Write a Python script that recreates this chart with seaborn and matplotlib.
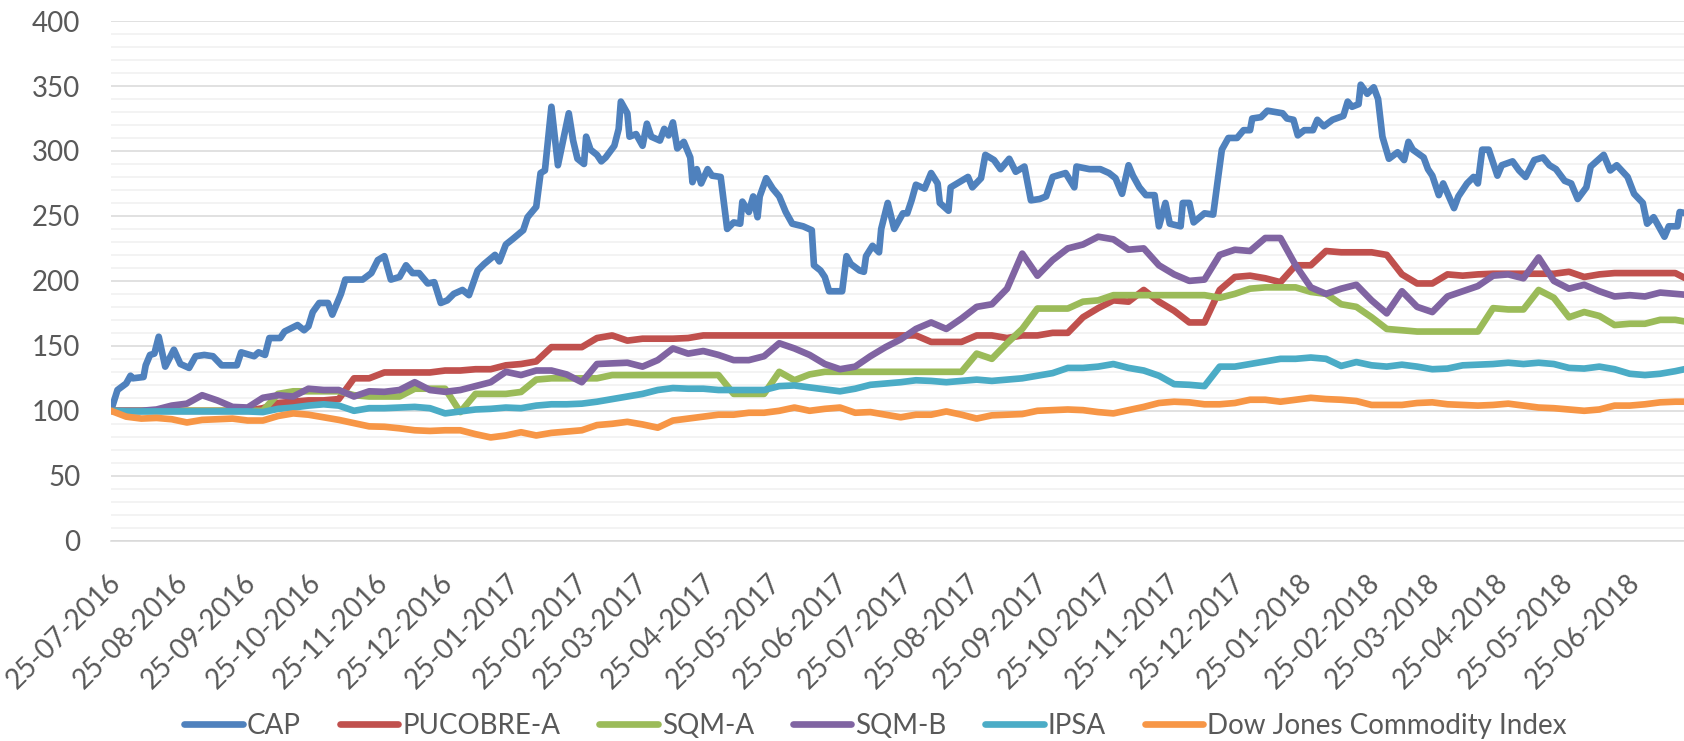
import pandas as pd
import matplotlib.pyplot as plt
import matplotlib.dates as mdates
import matplotlib.transforms as mtransforms
from matplotlib.ticker import MultipleLocator
import seaborn as sns

inicio = pd.Timestamp('2016-07-25')

# CAP: puntos (dias desde el 25-07-2016, valor base 100)
cap_dias = [0, 3, 7, 9, 10, 15, 16, 18, 20, 22, 25, 29, 32, 36, 39, 43, 47, 51, 58, 60,
            66, 68, 71, 73, 78, 80, 86, 89, 91, 93, 96, 100, 102, 106, 108, 116, 120, 123, 126, 129,
            133, 136, 139, 142, 146, 149, 152, 155, 158, 162, 165, 169, 172, 177, 179, 182, 185, 190, 192, 196,
            198, 200, 203, 206, 211, 213, 215, 218, 219, 221, 224, 226, 228, 232, 234, 235, 238, 239, 242, 245,
            247, 249, 253, 255, 257, 259, 261, 264, 267, 268, 270, 272, 275, 277, 281, 284, 287, 290, 291, 294,
            296, 298, 299, 302, 305, 308, 311, 314, 319, 323, 324, 327, 329, 331, 337, 339, 341, 345, 347, 348,
            351, 354, 355, 358, 361, 365, 367, 369, 371, 375, 378, 381, 382, 386, 387, 391, 395, 397, 401, 403,
            407, 410, 414, 417, 421, 424, 428, 431, 434, 440, 444, 445, 451, 456, 460, 463, 466, 469, 471, 474,
            477, 481, 483, 486, 488, 493, 494, 497, 499, 504, 508, 512, 515, 519, 522, 525, 526, 530, 533, 540,
            542, 545, 547, 550, 554, 556, 559, 563, 568, 570, 572, 575, 576, 579, 582, 584, 586, 589, 593, 596,
            598, 600, 605, 607, 609, 612, 614, 619, 621, 625, 628, 630, 632, 635, 639, 641, 646, 649, 652, 656,
            660, 663, 666, 670, 673, 676, 680, 682, 688, 691, 694, 699, 702, 706, 708, 711, 716, 718, 722, 723,
            726]
cap_valores = [100, 116, 121, 127, 125, 126, 135, 143, 144, 157, 134, 147, 136, 133, 142, 143, 142, 135, 135, 145,
               142, 145, 143, 156, 156, 161, 166, 162, 165, 176, 183, 183, 174, 190, 201, 201, 206, 216, 219, 201,
               203, 212, 206, 206, 198, 199, 183, 185, 190, 193, 189, 208, 213, 220, 215, 228, 232, 239, 249, 257,
               283, 285, 334, 289, 329, 308, 294, 290, 311, 301, 297, 292, 295, 304, 317, 338, 329, 311, 313, 304,
               321, 311, 308, 317, 312, 322, 302, 307, 295, 276, 286, 275, 286, 281, 280, 240, 245, 244, 261, 253,
               265, 249, 265, 279, 271, 265, 253, 244, 242, 239, 212, 208, 203, 192, 192, 219, 213, 208, 207, 219,
               227, 222, 240, 260, 240, 252, 252, 262, 274, 271, 283, 275, 260, 254, 272, 276, 280, 272, 279, 297,
               293, 286, 294, 284, 288, 262, 263, 265, 280, 283, 272, 288, 286, 286, 283, 279, 267, 289, 281, 272,
               266, 266, 242, 260, 244, 242, 260, 260, 245, 252, 251, 301, 310, 310, 316, 316, 325, 326, 331, 329,
               325, 324, 312, 316, 316, 324, 319, 324, 327, 338, 334, 336, 351, 344, 349, 340, 311, 294, 299, 293,
               307, 301, 295, 286, 281, 266, 275, 256, 265, 275, 280, 275, 301, 301, 281, 289, 292, 285, 280, 293,
               295, 289, 286, 277, 275, 263, 272, 288, 297, 285, 289, 280, 267, 260, 244, 249, 234, 242, 242, 253,
               252]

# Resto de las series: valores semanales
pucobre = [100, 100, 100, 100, 100, 100, 100, 100, 100, 100, 102, 106, 107, 108, 108, 109, 125, 125, 129.5, 129.5,
           129.5, 129.5, 131, 131, 132, 132, 135, 136, 138, 149, 149, 149, 156, 158, 154, 155.5, 155.5, 155.5, 156, 158,
           158, 158, 158, 158, 158, 158, 158, 158, 158, 158, 158, 158, 158, 158, 153, 153, 153, 158, 158, 156,
           158, 158, 160, 160, 172, 179, 185, 184, 193, 184, 177, 168, 168, 193, 203, 204, 202, 199, 212, 212,
           223, 222, 222, 222, 220, 205, 198, 198, 205, 204, 205, 205.5, 205.5, 205.5, 205.5, 205.5, 207, 203, 205, 206,
           206, 206, 206, 206, 200]
sqm_a = [100, 100, 100, 100, 100, 100, 100, 100, 100, 100, 100, 113, 115, 115, 115, 115, 112, 111, 111, 111,
         117, 117, 117, 99, 113, 113, 113, 114.5, 124, 125, 125, 125, 125, 127.5, 127.5, 127.5, 127.5, 127.5, 127.5, 127.5,
         127.5, 113, 113, 113, 130, 123.5, 128, 130, 130, 130, 130, 130, 130, 130, 130, 130, 130, 144, 140, 152,
         163, 178.7, 178.7, 178.7, 184, 185, 189, 189, 189, 189, 189, 189, 189, 187, 190, 194, 195, 195, 195, 191.5,
         190, 182, 180, 172, 163, 162, 161, 161, 161, 161, 161, 179, 178, 178, 193, 187, 172, 176, 173, 166,
         167, 167, 170, 170, 168]
sqm_b = [100, 100, 100, 101, 104, 105.5, 112, 108, 103, 102.5, 110, 112, 111, 117, 116, 116, 111, 115, 114.6, 116,
         122, 116, 114.6, 116, 119, 122, 130, 127.5, 131, 131, 128, 122, 136, 136.5, 137, 134, 139, 148, 144, 146,
         143, 139, 139, 142, 152, 148, 143, 136, 132, 134, 142, 149, 155, 163, 168, 163, 171, 180, 182, 194,
         221, 204, 216, 225, 228, 234, 232, 224, 225, 212, 205, 200, 201, 220, 224, 223, 233, 233, 212, 195,
         190, 194, 197, 185, 175, 192, 180, 176, 188, 192, 196, 204, 205, 202, 218, 200, 194, 197, 192, 188,
         189, 188, 191, 190, 189]
ipsa = [100, 99.5, 99.5, 99.5, 99.5, 99.5, 99.5, 99.5, 99.5, 99.5, 99, 101.5, 102.5, 104, 105, 104, 100, 102, 102, 102.5,
        103, 102, 98, 99.5, 101, 101.5, 102.5, 102, 104, 105, 105, 105.5, 107, 109, 111, 113, 116, 117.5, 117, 117,
        116, 116, 116, 116, 119, 119.5, 118, 116.5, 115, 117, 120, 121, 122, 123.5, 123, 122, 123, 124, 123, 124,
        125, 127, 129, 133, 133, 134, 136, 133, 131, 127, 120.5, 120, 119, 134, 134, 136, 138, 140, 140, 141,
        140, 134.5, 137.5, 135, 134, 135.5, 134, 132, 132.5, 135, 135.5, 136, 137, 136, 137, 136, 133, 132.5, 134, 132,
        128.5, 127.5, 128.5, 130.5, 133]
djci = [100, 95.5, 94, 94.5, 93.5, 91, 93, 93.5, 94, 92.5, 92.5, 96, 98, 97, 95, 93, 90.5, 88, 87.7, 86.5,
        85, 84.5, 85, 85, 82, 79.5, 81, 83.5, 81, 83, 84, 85, 89, 90, 91.5, 89.5, 87, 92.5, 94, 95.5,
        97, 97, 98.5, 98.5, 100, 102.5, 100, 101.5, 102.5, 98.5, 99, 97, 95, 97, 97, 99.5, 97, 94, 96.5, 97,
        97.5, 100, 100.5, 101, 100.5, 99, 98, 100.5, 103, 106, 107, 106.5, 105, 105, 106, 108.5, 108.5, 107, 108.5, 110,
        109, 108.5, 107.5, 104.5, 104.5, 104.5, 106, 106.5, 105, 104.5, 104, 104.5, 105.5, 104, 102.5, 102, 101, 100, 101, 104,
        104, 105, 106.5, 107, 107]

series = ['CAP', 'PUCOBRE-A', 'SQM-A', 'SQM-B', 'IPSA', 'Dow Jones Commodity Index']
colores = ['#4F81BD', '#C0504D', '#9BBB59', '#8064A2', '#4BACC6', '#F79646']

semanas = pd.date_range(inicio, periods=len(pucobre), freq='7D')
df_sem = pd.DataFrame({'Fecha': semanas, 'PUCOBRE-A': pucobre, 'SQM-A': sqm_a,
                       'SQM-B': sqm_b, 'IPSA': ipsa, 'Dow Jones Commodity Index': djci})
largo = df_sem.melt(id_vars='Fecha', var_name='Serie', value_name='Valor')
df_cap = pd.DataFrame({'Fecha': inicio + pd.to_timedelta(cap_dias, unit='D'),
                       'Serie': 'CAP', 'Valor': cap_valores})
largo = pd.concat([df_cap, largo], ignore_index=True)

sns.set_style('white')
plt.rcParams['font.family'] = ['Lato', 'DejaVu Sans']
gris = '#595959'

fig = plt.figure(figsize=(16.84, 7.41), dpi=100)
ax = fig.add_axes([0.0659, 0.2703, 0.9341, 0.7013])

sns.lineplot(data=largo, x='Fecha', y='Valor', hue='Serie', hue_order=series,
             palette=colores, linewidth=4.8, ax=ax, legend=True)
for ln in ax.get_lines():
    ln.set_solid_capstyle('round')
    ln.set_solid_joinstyle('round')

ax.set_ylim(0, 400)
ax.set_xlim(inicio, pd.Timestamp('2018-07-20'))
ax.yaxis.set_major_locator(MultipleLocator(50))
ax.yaxis.set_minor_locator(MultipleLocator(10))
ax.xaxis.set_major_locator(mdates.MonthLocator(bymonthday=25))
ax.xaxis.set_major_formatter(mdates.DateFormatter('%d-%m-%Y'))

ax.set_axisbelow(True)
ax.grid(which='minor', axis='y', color='#F0F0F0', linewidth=1.1)
ax.grid(which='major', axis='y', color='#D9D9D9', linewidth=1.1)
ax.grid(which='major', axis='x', visible=False)
for s in ['left', 'top', 'right']:
    ax.spines[s].set_visible(False)
ax.spines['bottom'].set_color('#D9D9D9')
ax.spines['bottom'].set_linewidth(1.1)

ax.tick_params(axis='y', which='both', length=0, pad=22, labelsize=20, labelcolor=gris)
ax.tick_params(axis='x', which='major', length=6.5, width=1.1, color='#D9D9D9',
               direction='out', pad=21, labelsize=20, labelcolor=gris)
ax.tick_params(axis='x', which='minor', length=0)
desplazar = mtransforms.ScaledTranslation(0.06, 0, fig.dpi_scale_trans)
for lab in ax.get_xticklabels():
    lab.set_rotation(45)
    lab.set_ha('right')
    lab.set_va('center')
    lab.set_rotation_mode('anchor')
    lab.set_transform(lab.get_transform() + desplazar)

ax.set_xlabel('')
ax.set_ylabel('')

handles, labels = ax.get_legend_handles_labels()
ax.get_legend().remove()
leg = fig.legend(handles, labels, loc='center', bbox_to_anchor=(0.52, 0.02), ncol=6,
                 frameon=False, fontsize=20, handlelength=2.1, handletextpad=0.15,
                 columnspacing=1.4, labelcolor=gris)
for h in leg.get_lines():
    h.set_linewidth(4.8)
    h.set_solid_capstyle('round')

plt.savefig('out.png', dpi=100)
